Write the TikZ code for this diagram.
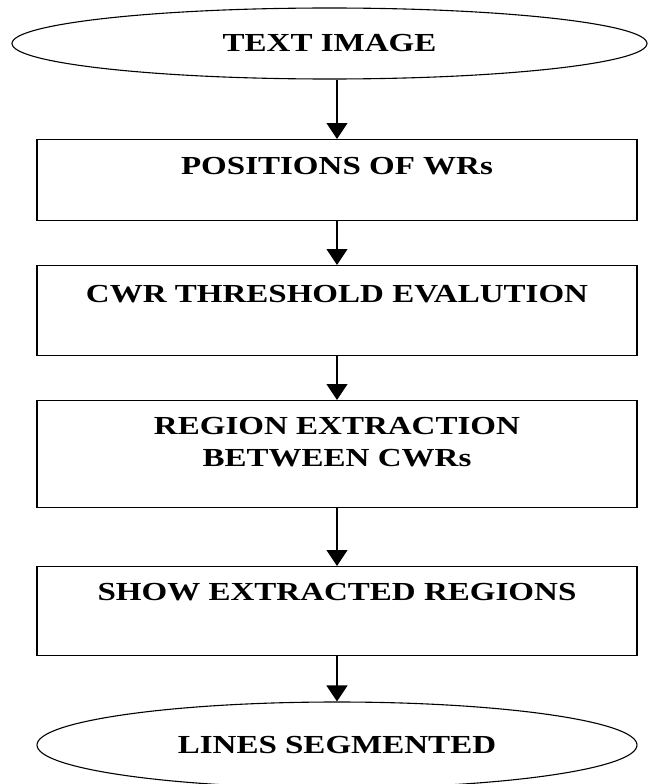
\documentclass[tikz,border=0pt]{standalone}
\usepackage{fontspec}
\setmainfont{Liberation Serif}[FakeStretch=1.27]
\usetikzlibrary{shapes.geometric,arrows.meta}
\tikzset{
  stepbox/.style={draw=black, line width=1.1pt, inner sep=0pt, anchor=north},
  oval/.style={draw=black, ellipse, line width=1.1pt, inner sep=0pt},
  arr/.style={draw=black, line width=1.2pt, -{Triangle[width=21pt,length=16pt]}},
  lbl/.style={font=\fontsize{26}{32}\selectfont\bfseries}
}
\newcommand\boxtxt[3]{\parbox[t][#1pt][t]{600pt}{\vspace*{#2pt}\centering #3\par}}
\begin{document}
\begin{tikzpicture}[x=1pt,y=-1pt]
\clip (0,0) rectangle (648,784);
\node[oval, lbl, minimum width=635pt, minimum height=71pt] (img) at (329.5,43.5) {TEXT IMAGE};
\node[stepbox, lbl] (p1) at (337,139) {\boxtxt{81}{18}{POSITIONS OF WRs}};
\node[stepbox, lbl] (p2) at (337,265) {\boxtxt{90}{20}{CWR THRESHOLD EVALUTION}};
\node[stepbox, lbl] (p3) at (337,400) {\boxtxt{107}{17}{REGION EXTRACTION\\BETWEEN CWRs}};
\node[stepbox, lbl] (p4) at (337,566) {\boxtxt{89}{17}{SHOW EXTRACTED REGIONS}};
\node[oval, lbl, minimum width=600pt, minimum height=86pt] (seg) at (337,745) {LINES SEGMENTED};
\draw[arr] (img.south -| p1.north) -- (p1.north);
\draw[arr] (p1.south) -- (p2.north);
\draw[arr] (p2.south) -- (p3.north);
\draw[arr] (p3.south) -- (p4.north);
\draw[arr] (p4.south) -- (seg.north);
\end{tikzpicture}
\end{document}
